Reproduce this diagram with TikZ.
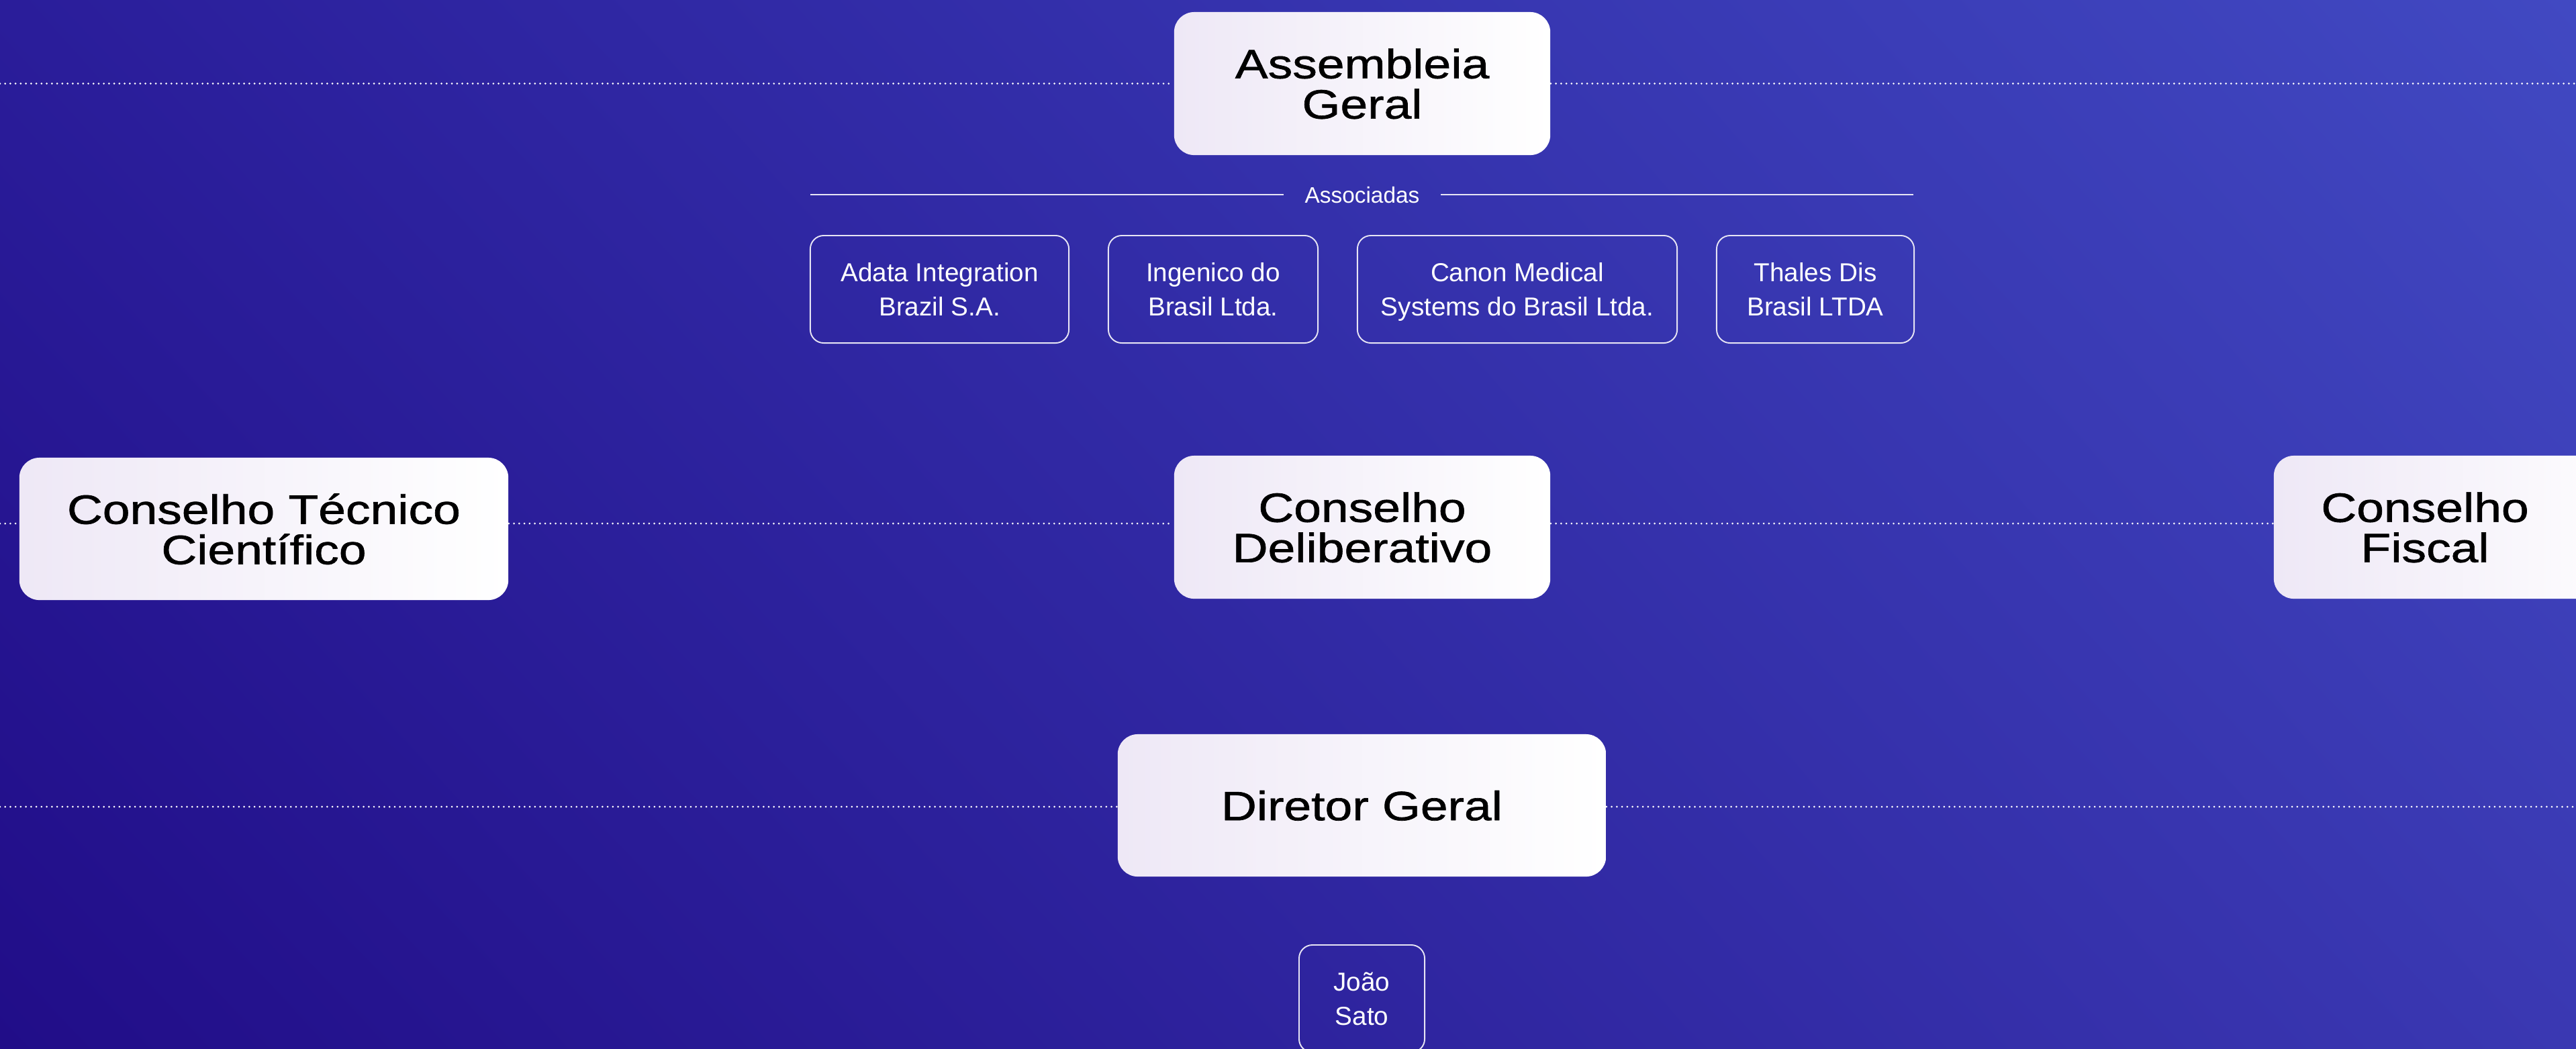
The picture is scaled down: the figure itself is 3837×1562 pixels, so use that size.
\documentclass[tikz,border=0pt]{standalone}
\usepackage{fontspec}
\usetikzlibrary{shadings}
\setmainfont{Liberation Sans}
\newfontfamily\titlefont[FakeStretch=1.2,FakeBold=1.1]{Liberation Sans}
\definecolor{bgTL}{HTML}{2A1D9A}
\definecolor{bgTR}{HTML}{4149C2}
\definecolor{bgBL}{HTML}{210D88}
\definecolor{bgBR}{HTML}{3A38B2}
\definecolor{boxL}{HTML}{EEE8F6}
\definecolor{lineW}{HTML}{E6E4F4}
\tikzset{
  bigbox/.style={rounded corners=8.5pt, left color=boxL, right color=white,
    inner sep=0pt, align=center, text=black, text depth=0pt,
    font=\titlefont\fontsize{17.35}{17.07}\selectfont},
  titletext/.style={inner sep=0pt, align=center, text=black, text depth=0pt,
    font=\titlefont\fontsize{17.35}{17.07}\selectfont},
  smallbox/.style={rounded corners=5.7pt, draw=lineW, line width=0.55pt,
    inner sep=0pt, align=center, text=white, text depth=0pt,
    minimum height=1.6cm, font=\fontsize{11}{14.5}\selectfont},
  assoc/.style={inner ysep=0pt, inner xsep=0.31cm, text=white,
    font=\fontsize{9.5}{11}\selectfont},
  dotline/.style={white, line width=0.85pt, dash pattern=on 0pt off 2.2pt, line cap=round},
  sepline/.style={lineW, line width=0.6pt},
}
\begin{document}
\begin{tikzpicture}[x=0.01cm,y=-0.01cm]
\useasboundingbox (0,0) rectangle (3837,1562);
\clip (0,0) rectangle (3837,1562);
\shade[upper left=bgTL, upper right=bgTR, lower left=bgBL, lower right=bgBR]
  (0,0) rectangle (3837,1562);

% coordinates for the free ends of the dotted lines
\coordinate (L1) at (0,124.5);
\coordinate (R1) at (3837,124.5);
\coordinate (L2) at (0,780);
\coordinate (R2) at (3837,780);
\coordinate (L3) at (0,1202);
\coordinate (R3) at (3837,1202);

% main boxes
\node[bigbox, minimum width=5.6cm, minimum height=2.13cm] (ag) at (2029,124.5) {Assembleia\\Geral};
\node[bigbox, minimum width=7.28cm, minimum height=2.12cm] (ctc) at (393,788) {Conselho Técnico\\Científico};
\node[bigbox, minimum width=5.6cm, minimum height=2.13cm] (cd) at (2029,785.5) {Conselho\\Deliberativo};
\node[bigbox, minimum width=5.61cm, minimum height=2.13cm] (cfbox) at (3667.5,785.5) {};
\node[titletext] (cf) at (3612,785.5) {Conselho\\Fiscal};
\node[bigbox, minimum width=7.27cm, minimum height=2.12cm] (dg) at (2028.5,1200) {Diretor Geral};

% dotted lines
\draw[dotline] (L1) -- (ag.west |- L1);
\draw[dotline] (ag.east |- R1) -- (R1);
\draw[dotline] (L2) -- (ctc.west |- L2);
\draw[dotline] (ctc.east |- L2) -- (cd.west |- L2);
\draw[dotline] (cd.east |- R2) -- (cfbox.west |- R2);
\draw[dotline] (L3) -- (dg.west |- L3);
\draw[dotline] (dg.east |- R3) -- (R3);

% associadas
\node[assoc] (as) at (2029,290.5) {Associadas};
\coordinate (asL) at (1207,290);
\coordinate (asR) at (2850,290);
\draw[sepline] (asL) -- (as.west |- asL);
\draw[sepline] (as.east |- asR) -- (asR);

\node[smallbox, minimum width=3.85cm] (a1) at (1399.5,431) {Adata Integration\\Brazil S.A.};
\node[smallbox, minimum width=3.12cm] (a2) at (1807,431) {Ingenico do\\Brasil Ltda.};
\node[smallbox, minimum width=4.76cm] (a3) at (2260,431) {Canon Medical\\Systems do Brasil Ltda.};
\node[smallbox, minimum width=2.94cm] (a4) at (2704,431) {Thales Dis\\Brasil LTDA};

% director name
\node[smallbox, minimum width=1.87cm] (js) at (2028.5,1488) {João\\Sato};
\end{tikzpicture}
\end{document}
